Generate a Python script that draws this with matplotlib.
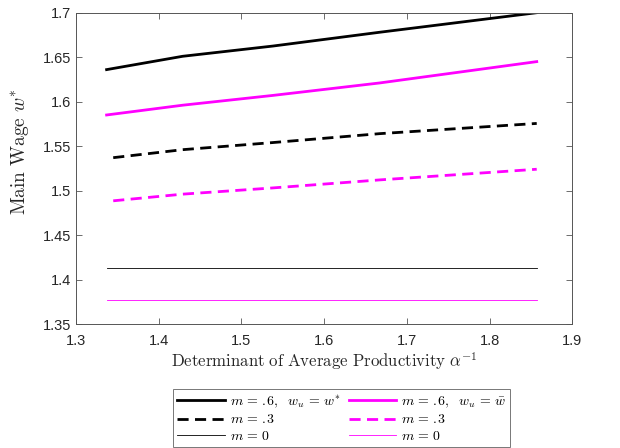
import matplotlib
matplotlib.use("Agg")
import matplotlib.pyplot as plt

plt.rcParams['mathtext.fontset'] = 'cm'
plt.rcParams['font.family'] = ['Liberation Sans', 'DejaVu Sans']

# data
x_solid = [1.337, 1.429, 1.538, 1.667, 1.857]
x_dash = [1.345, 1.429, 1.538, 1.667, 1.857]
x_flat = [1.337, 1.857]

black_m06 = [1.636, 1.651, 1.6625, 1.678, 1.700]
black_m03 = [1.537, 1.546, 1.554, 1.564, 1.5755]
black_m0 = [1.4125, 1.4125]
mag_m06 = [1.585, 1.596, 1.607, 1.621, 1.645]
mag_m03 = [1.4885, 1.496, 1.503, 1.512, 1.524]
mag_m0 = [1.3765, 1.3765]

labels_black = [r'$m\,=\,.\!6,\ \ w_u\,=\,w^{*}$', r'$m\,=\,.\!3$', r'$m\,=\,0$']
labels_mag = [r'$m\,=\,.\!6,\ \ w_u\,=\,\bar{w}$', r'$m\,=\,.\!3$', r'$m\,=\,0$']

xticks = [1.3, 1.4, 1.5, 1.6, 1.7, 1.8, 1.9]
yticks = [1.35, 1.4, 1.45, 1.5, 1.55, 1.6, 1.65, 1.7]

MAG = '#FF00FF'

fig = plt.figure(figsize=(6.2, 4.48), dpi=100)
ax = fig.add_axes([76/620, 1-324/448, (572.3-76)/620, (324-12.7)/448])

h1, = ax.plot(x_solid, black_m06, color='black', lw=2, label=labels_black[0])
h2, = ax.plot(x_dash, black_m03, color='black', lw=2, ls=(0, (4, 2.3)), label=labels_black[1])
h3, = ax.plot(x_flat, black_m0, color='black', lw=0.6, label=labels_black[2])
h4, = ax.plot(x_solid, mag_m06, color=MAG, lw=2, label=labels_mag[0])
h5, = ax.plot(x_dash, mag_m03, color=MAG, lw=2, ls=(0, (4, 2.3)), label=labels_mag[1])
h6, = ax.plot(x_flat, mag_m0, color=MAG, lw=0.6, label=labels_mag[2])

ax.set_xlim(1.3, 1.9)
ax.set_ylim(1.35, 1.7)
ax.set_xticks(xticks)
ax.set_xticklabels([f'{t:g}' for t in xticks])
ax.set_yticks(yticks)
ax.set_yticklabels([f'{t:g}' for t in yticks])
ax.tick_params(direction='in', top=True, right=True, labelsize=10.5,
               color='#555555', length=4, width=0.6, labelcolor='#262626')
ax.tick_params(axis='x', pad=7)
for s in ax.spines.values():
    s.set_color('#555555')
    s.set_linewidth(0.7)

ax.set_xlabel(r'$\mathrm{Determinant\ of\ Average\ Productivity}\ \alpha^{-1}$',
              fontsize=12.1, color='#262626', labelpad=2)
ax.set_ylabel(r'$\mathrm{Main\ Wage}\ w^{*}$', fontsize=14, color='#262626')
ax.yaxis.set_label_coords(-0.09, 0.553)

leg = fig.legend(handles=[h1, h2, h3, h4, h5, h6], ncol=2,
                 loc='upper center', bbox_to_anchor=(0.551, 1-389/448),
                 borderaxespad=0,
                 fontsize=10, handlelength=3.45, handletextpad=0.3,
                 columnspacing=0.6, labelspacing=0.2, borderpad=0.3,
                 frameon=True, fancybox=False, edgecolor='#555555')
leg.get_frame().set_linewidth(0.7)

fig.savefig('out.png', dpi=100)
